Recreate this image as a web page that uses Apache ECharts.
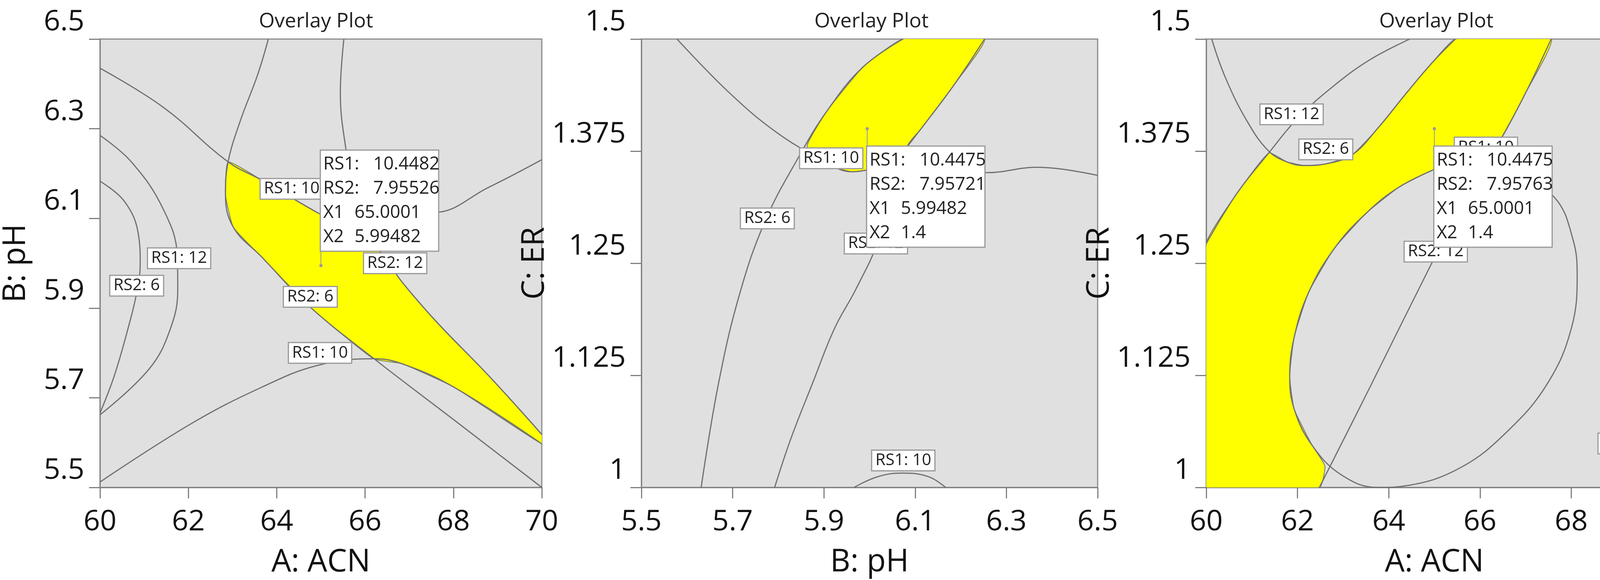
<!DOCTYPE html>
<html>
<head>
<meta charset="utf-8">
<script src="https://cdn.jsdelivr.net/npm/echarts@6/dist/echarts.min.js"></script>
<style>html,body{margin:0;padding:0;background:#fff}#chart{width:4310px;height:1485px}</style>
</head>
<body>
<div id="chart"></div>
<script>
// panel 1: A: ACN vs B: pH
var p1_rs2_6 = [[63.81,6.5],[63.57,6.421],[63.17,6.316],[62.90,6.226],[62.84,6.153],[63.02,6.080],[63.65,6.015],[64.76,5.902],[66.19,5.788],[68.02,5.650],[70,5.5]];
var p1_rs1_10a = [[60,6.435],[61.43,6.348],[62.90,6.226],[63.65,6.186],[64.92,6.113],[66.03,6.056],[66.43,6.015],[66.83,5.959],[67.62,5.869],[68.81,5.748],[70,5.618]];
var p1_rs1_10b = [[60,5.512],[62.06,5.642],[63.65,5.723],[64.92,5.772],[66.19,5.787],[66.83,5.776],[68.02,5.723],[70,5.597]];
var p1_rs2_12 = [[65.52,6.5],[65.44,6.381],[65.56,6.259],[65.71,6.202],[66.67,6.129],[67.54,6.113],[68.81,6.170],[70,6.231]];
var p1_rs1_12 = [[60,6.285],[60.71,6.226],[61.43,6.121],[61.75,6.015],[61.76,5.942],[61.59,5.853],[61.11,5.764],[60,5.662]];
var p1_rs2_6b = [[60,6.183],[60.56,6.137],[60.87,6.064],[60.91,5.999],[60.83,5.934],[60.63,5.853],[60.32,5.748],[60,5.666]];
var p1_zone = [[62.90,6.226],[63.65,6.186],[64.92,6.113],[66.03,6.056],[66.43,6.015],[66.83,5.959],[67.62,5.869],[68.81,5.748],[70,5.618],[70,5.597],[68.02,5.723],[66.83,5.776],[66.19,5.787],[64.76,5.902],[63.65,6.015],[63.02,6.080],[62.84,6.153]];
var p1_labels = [['RS1: 10',64.34,6.166],['RS1: 12',61.79,6.011],['RS2: 6',60.83,5.950],['RS2: 12',66.68,6.000],['RS2: 6',64.76,5.925],['RS1: 10',64.98,5.800]];
var p1_flag = {x:65.0001, y:5.99482, boxY:6.251, rs1:'10.4482', rs2:'7.95526', x1:'65.0001', x2:'5.99482'};

// panel 2: B: pH vs C: ER
var p2_rs1_10a = [[5.578,1.5],[5.693,1.440],[5.796,1.396],[5.891,1.367],[5.962,1.352],[6.03,1.356],[6.129,1.353],[6.256,1.351],[6.367,1.357],[6.5,1.348]];
var p2_rs2_6 = [[5.631,1.0],[5.669,1.116],[5.716,1.217],[5.772,1.298],[5.843,1.367],[5.907,1.420],[5.986,1.469],[6.073,1.5]];
var p2_rs2_12 = [[6.252,1.5],[6.184,1.448],[6.113,1.400],[6.081,1.379],[6.050,1.339],[6.018,1.274],[5.970,1.221],[5.923,1.177],[5.875,1.116],[5.828,1.055],[5.792,1.0]];
var p2_rs1_10b = [[5.966,1.0],[6.018,1.012],[6.073,1.016],[6.129,1.012],[6.167,1.0]];
var p2_zone = [[5.863,1.381],[5.907,1.420],[5.986,1.469],[6.073,1.5],[6.252,1.5],[6.184,1.448],[6.113,1.400],[6.081,1.379],[6.034,1.363],[5.994,1.354],[5.962,1.352],[5.923,1.357],[5.891,1.367]];
var p2_labels = [['RS1: 10',5.916,1.367],['RS2: 6',5.776,1.300],['RS2: 12',6.014,1.272],['RS1: 10',6.074,1.030]];
var p2_flag = {x:5.99482, y:1.4, boxY:1.380, rs1:'10.4475', rs2:'7.95721', x1:'5.99482', x2:'1.4'};

// panel 3: A: ACN vs C: ER
var p3_rs1_12a = [[60.12,1.5],[60.42,1.457],[60.90,1.408],[61.37,1.375],[61.77,1.363],[62.16,1.359],[62.64,1.361],[63.20,1.371],[63.75,1.400],[64.39,1.440],[64.94,1.473],[65.46,1.5]];
var p3_rs2_6 = [[64.46,1.5],[63.59,1.477],[62.80,1.448],[62.01,1.412],[61.37,1.373],[60.66,1.327],[60,1.272]];
var p3_rs1_10 = [[62.48,1.0],[63.59,1.112],[65.02,1.258],[65.89,1.343],[66.45,1.388],[67.00,1.440],[67.56,1.5]];
var p3_rs2_12 = [[65.02,1.355],[65.97,1.357],[66.84,1.347],[67.64,1.323],[68.03,1.278],[68.13,1.237],[68.00,1.177],[67.48,1.116],[66.61,1.063],[65.57,1.022],[64.39,1.002],[63.75,1.0],[62.96,1.014],[62.32,1.047],[61.93,1.087],[61.83,1.124],[61.93,1.168],[62.24,1.217],[62.80,1.266],[63.51,1.306],[64.23,1.335],[65.02,1.355]];
var p3_rs1_12b = [[68.75,1.0],[69.30,1.034],[69.70,1.071],[70,1.101]];
var p3_rs1_12c = [[68.75,1.5],[69.38,1.481],[70,1.450]];
var p3_zone = [[60,1.0],[60,1.272],[60.66,1.327],[61.37,1.373],[61.77,1.363],[62.16,1.359],[62.64,1.361],[63.20,1.371],[63.75,1.400],[64.39,1.440],[64.94,1.473],[65.46,1.5],[67.56,1.5],[67.00,1.440],[66.45,1.388],[65.89,1.363],[65.02,1.355],[64.23,1.335],[63.51,1.306],[62.80,1.266],[62.24,1.217],[61.93,1.168],[61.83,1.124],[61.93,1.087],[62.32,1.047],[62.60,1.024],[62.48,1.0]];
var p3_labels = [['RS1: 10',66.13,1.379],['RS1: 12',61.87,1.416],['RS2: 6',62.62,1.377],['RS2: 12',65.03,1.263],['RS1: 12',69.28,1.049]];
var p3_flag = {x:65.0001, y:1.4, boxY:1.380, rs1:'10.4475', rs2:'7.95763', x1:'65.0001', x2:'1.4'};

var FONT = 'Open Sans';
var LINE = '#707070';
var grids = [
  {left:221, top:100, width:1166, height:1167},
  {left:1642, top:100, width:1168, height:1167},
  {left:3088, top:100, width:1168, height:1167}
];

function xAxis(i, name, min, max, interval) {
  return {
    gridIndex:i, type:'value', name:name, min:min, max:max, interval:interval,
    nameLocation:'middle', nameGap:152, nameTextStyle:{fontSize:80, color:'#111', fontFamily:FONT},
    axisLine:{lineStyle:{color:'#808080', width:3}}, axisTick:{length:28, lineStyle:{color:'#808080', width:3}},
    axisLabel:{fontSize:74, color:'#111', fontFamily:FONT, margin:52},
    splitLine:{show:false}
  };
}
function yAxis(i, name, min, max, interval, gap) {
  return {
    gridIndex:i, type:'value', name:name, min:min, max:max, interval:interval,
    nameLocation:'middle', nameGap:gap, nameTextStyle:{fontSize:80, color:'#111', fontFamily:FONT},
    axisLine:{lineStyle:{color:'#808080', width:3}}, axisTick:{length:28, lineStyle:{color:'#808080', width:3}},
    axisLabel:{fontSize:74, color:'#111', fontFamily:FONT, margin:40, verticalAlign:'bottom', padding:[0,0,6,0]},
    splitLine:{show:false}
  };
}

var series = [];
function contour(i, pts) {
  series.push({type:'line', xAxisIndex:i, yAxisIndex:i, data:pts, smooth:0.4, showSymbol:false, silent:true,
    lineStyle:{color:LINE, width:3}, z:3, clip:true});
}
function zone(i, pts) {
  series.push({type:'custom', xAxisIndex:i, yAxisIndex:i, data:[pts[0]], silent:true, z:2, clip:true,
    renderItem:function (params, api) {
      return {type:'polygon', shape:{points:pts.map(function (p) { return api.coord(p); }), smooth:0.15},
        style:{fill:'#ffff00', stroke:LINE, lineWidth:2}};
    }});
}
function labels(i, list) {
  series.push({type:'scatter', xAxisIndex:i, yAxisIndex:i, symbolSize:1, silent:true, z:5,
    itemStyle:{color:'transparent', opacity:1},
    data:list.map(function (l) { return {value:[l[1], l[2]], name:l[0]}; }),
    label:{show:true, position:'inside', formatter:'{b}', fontSize:42, color:'#222', fontFamily:FONT,
      backgroundColor:'#fff', borderColor:'#999', borderWidth:3, padding:[6,8,2,8]}});
}
function flag(i, f) {
  series.push({type:'line', xAxisIndex:i, yAxisIndex:i, data:[[f.x, f.y], [f.x, f.boxY]], showSymbol:false, silent:true,
    lineStyle:{color:'#999', width:2}, z:6});
  series.push({type:'scatter', xAxisIndex:i, yAxisIndex:i, symbolSize:8, silent:true, z:6,
    itemStyle:{color:'#999', opacity:1}, data:[[f.x, f.y]]});
  series.push({type:'scatter', xAxisIndex:i, yAxisIndex:i, symbolSize:0, silent:true, z:7,
    itemStyle:{opacity:1}, data:[[f.x, f.boxY]],
    label:{show:true, position:'right', distance:0, align:'left', verticalAlign:'top',
      backgroundColor:'#fff', borderColor:'#999', borderWidth:3, padding:[4,10,4,6], width:284,
      formatter:'{k|RS1:}{v|' + f.rs1 + '}\n{k|RS2:}{v|' + f.rs2 + '}\n{s|X1}{v|' + f.x1 + '}\n{s|X2}{v|' + f.x2 + '}',
      rich:{
        k:{fontSize:46, fontFamily:FONT, color:'#222', width:128, lineHeight:62},
        s:{fontSize:46, fontFamily:FONT, color:'#222', width:80, lineHeight:62},
        v:{fontSize:46, fontFamily:FONT, color:'#222', lineHeight:62}
      }}});
}

zone(0, p1_zone);
[p1_rs2_6, p1_rs1_10a, p1_rs1_10b, p1_rs2_12, p1_rs1_12, p1_rs2_6b].forEach(function (c) { contour(0, c); });
labels(0, p1_labels);
flag(0, p1_flag);

zone(1, p2_zone);
[p2_rs1_10a, p2_rs2_6, p2_rs2_12, p2_rs1_10b].forEach(function (c) { contour(1, c); });
labels(1, p2_labels);
flag(1, p2_flag);

zone(2, p3_zone);
[p3_rs1_12a, p3_rs2_6, p3_rs1_10, p3_rs2_12, p3_rs1_12b, p3_rs1_12c].forEach(function (c) { contour(2, c); });
labels(2, p3_labels);
flag(2, p3_flag);

var chart = echarts.init(document.getElementById('chart'), null, {renderer:'canvas'});
chart.setOption({
  backgroundColor:'#fff',
  animation:false,
  title:grids.map(function (g) {
    return {text:'Overlay Plot', left:g.left + g.width / 2, top:24, textAlign:'center',
      textStyle:{fontSize:52, fontWeight:'normal', color:'#222', fontFamily:FONT}};
  }),
  grid:grids.map(function (g) {
    return {left:g.left, top:g.top, width:g.width, height:g.height, show:true,
      backgroundColor:'#e0e0e0', borderColor:'#8a8a8a', borderWidth:3};
  }),
  xAxis:[xAxis(0, 'A: ACN', 60, 70, 2), xAxis(1, 'B: pH', 5.5, 6.5, 0.2), xAxis(2, 'A: ACN', 60, 70, 2)],
  yAxis:[yAxis(0, 'B: pH', 5.5, 6.5, 0.2, 175), yAxis(1, 'C: ER', 1, 1.5, 0.125, 169), yAxis(2, 'C: ER', 1, 1.5, 0.125, 180)],
  series:series
});
</script>
</body>
</html>
